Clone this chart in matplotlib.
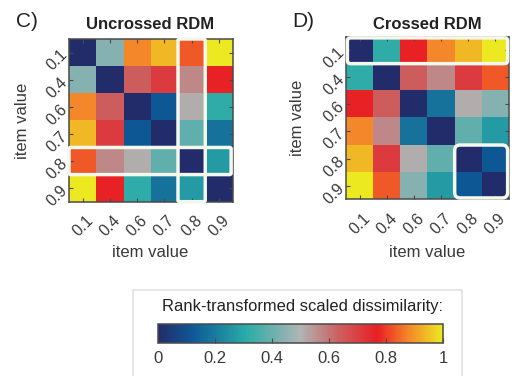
import numpy as np
import matplotlib
matplotlib.use('Agg')
import matplotlib.pyplot as plt
from matplotlib.colors import LinearSegmentedColormap, Normalize
from matplotlib.cm import ScalarMappable
from matplotlib.patches import FancyBboxPatch, Rectangle

plt.rcParams['font.family'] = ['Liberation Sans', 'DejaVu Sans']

item_values = ['0.1', '0.4', '0.6', '0.7', '0.8', '0.9']

# rank-transformed, scaled dissimilarities (rows/cols follow item_values)
uncrossed_rdm = [
	[0.00, 0.44, 0.88, 0.94, 0.83, 1.00],
	[0.44, 0.00, 0.64, 0.71, 0.57, 0.77],
	[0.88, 0.64, 0.00, 0.12, 0.51, 0.32],
	[0.94, 0.71, 0.12, 0.00, 0.39, 0.18],
	[0.83, 0.57, 0.51, 0.39, 0.00, 0.27],
	[1.00, 0.77, 0.32, 0.18, 0.27, 0.00],
]
crossed_rdm = [
	[0.00, 0.32, 0.77, 0.88, 0.94, 1.00],
	[0.32, 0.00, 0.64, 0.57, 0.71, 0.83],
	[0.77, 0.64, 0.00, 0.18, 0.51, 0.44],
	[0.88, 0.57, 0.18, 0.00, 0.39, 0.27],
	[0.94, 0.71, 0.51, 0.39, 0.00, 0.12],
	[1.00, 0.83, 0.44, 0.27, 0.12, 0.00],
]
cbar_ticks = [0, 0.2, 0.4, 0.6, 0.8, 1]
cbar_ticklabels = ['0', '0.2', '0.4', '0.6', '0.8', '1']

# RDM colormap: navy -> blue -> teal -> grey -> salmon -> red -> orange -> yellow
rdm_cmap = LinearSegmentedColormap.from_list('rdm', [
	(0.00, '#232c6a'),
	(0.12, '#0e5896'),
	(0.31, '#2aaca8'),
	(0.50, '#b0b4b4'),
	(0.63, '#cc6262'),
	(0.77, '#e81f24'),
	(0.88, '#f5862a'),
	(1.00, '#ece920'),
])

W, H = 515, 376
fig = plt.figure(figsize=(W / 100, H / 100), dpi=100)

def px_axes(x0, y0, x1, y1):
	return fig.add_axes([x0 / W, 1 - y1 / H, (x1 - x0) / W, (y1 - y0) / H])

spine_col = '#4a4a4a'
text_col = '#3a3a3a'
box_col = '#f4f7ec'

def draw_rdm(ax, mat):
	ax.imshow(np.array(mat), cmap=rdm_cmap, vmin=0, vmax=1, interpolation='nearest', aspect='auto')
	ax.set_xticks(range(len(item_values)))
	ax.set_yticks(range(len(item_values)))
	ax.set_xticklabels(item_values, rotation=45, ha='center', va='top', fontsize=11.5, color=text_col)
	ax.set_yticklabels(item_values, rotation=45, ha='right', va='center', rotation_mode='anchor',
		fontsize=11.5, color=text_col)
	ax.tick_params(direction='in', top=True, right=True, length=3, width=0.8, color=spine_col)
	ax.tick_params(axis='x', pad=8)
	ax.tick_params(axis='y', pad=3)
	for s in ax.spines.values():
		s.set_color(spine_col)
		s.set_linewidth(1.1)

def highlight(ax, x0, y0, x1, y1, rounding):
	p = FancyBboxPatch((x0, y0), x1 - x0, y1 - y0,
		boxstyle=f'round,pad=0,rounding_size={rounding}',
		fill=False, edgecolor=box_col, linewidth=2.5, clip_on=False, zorder=5)
	ax.add_patch(p)

ax1 = px_axes(69, 39, 232.5, 201.7)
draw_rdm(ax1, uncrossed_rdm)
highlight(ax1, 3.5, -0.5, 4.5, 5.5, 0.06)
highlight(ax1, -0.5, 3.5, 5.45, 4.5, 0.06)

ax2 = px_axes(346, 36.5, 509, 199.3)
draw_rdm(ax2, crossed_rdm)
highlight(ax2, -0.45, -0.45, 5.45, 0.5, 0.12)
highlight(ax2, 3.5, 3.5, 5.45, 5.45, 0.2)

# titles, panel letters and axis labels
fig.text(150.5 / W, 1 - 29 / H, 'Uncrossed RDM', ha='center', va='baseline',
	fontsize=12, fontweight='bold', color='#222222')
fig.text(427.5 / W, 1 - 29 / H, 'Crossed RDM', ha='center', va='baseline',
	fontsize=12, fontweight='bold', color='#222222')
fig.text(16 / W, 1 - 26.7 / H, 'C)', ha='left', va='baseline', fontsize=15, color='#222222')
fig.text(292 / W, 1 - 26.7 / H, 'D)', ha='left', va='baseline', fontsize=15, color='#222222')

for xc in (150.5, 427.5):
	fig.text(xc / W, 1 - 257 / H, 'item value', ha='center', va='baseline', fontsize=12, color=text_col)
fig.text(27 / W, 1 - 121 / H, 'item value', rotation=90, rotation_mode='anchor',
	ha='center', va='baseline', fontsize=12, color=text_col)
fig.text(302 / W, 1 - 117.5 / H, 'item value', rotation=90, rotation_mode='anchor',
	ha='center', va='baseline', fontsize=12, color=text_col)

# colorbar with its surrounding frame
fig.add_artist(Rectangle((133 / W, -0.01), (462 - 133) / W, (376 - 290) / H + 0.01,
	transform=fig.transFigure, fill=False, edgecolor='#e2e2e2', linewidth=1.2))
fig.text(302.5 / W, 1 - 311.5 / H, 'Rank-transformed scaled dissimilarity:', ha='center',
	va='baseline', fontsize=11.9, color='#222222')

cax = px_axes(158, 324, 443, 343)
cb = fig.colorbar(ScalarMappable(norm=Normalize(0, 1), cmap=rdm_cmap), cax=cax, orientation='horizontal')
cb.set_ticks(cbar_ticks)
cb.set_ticklabels(cbar_ticklabels)
cax.tick_params(direction='in', length=3.5, width=0.8, color=spine_col, labelsize=12,
	labelcolor=text_col, pad=6)
cb.outline.set_edgecolor(spine_col)
cb.outline.set_linewidth(1.1)

plt.savefig('out.png', dpi=100)
